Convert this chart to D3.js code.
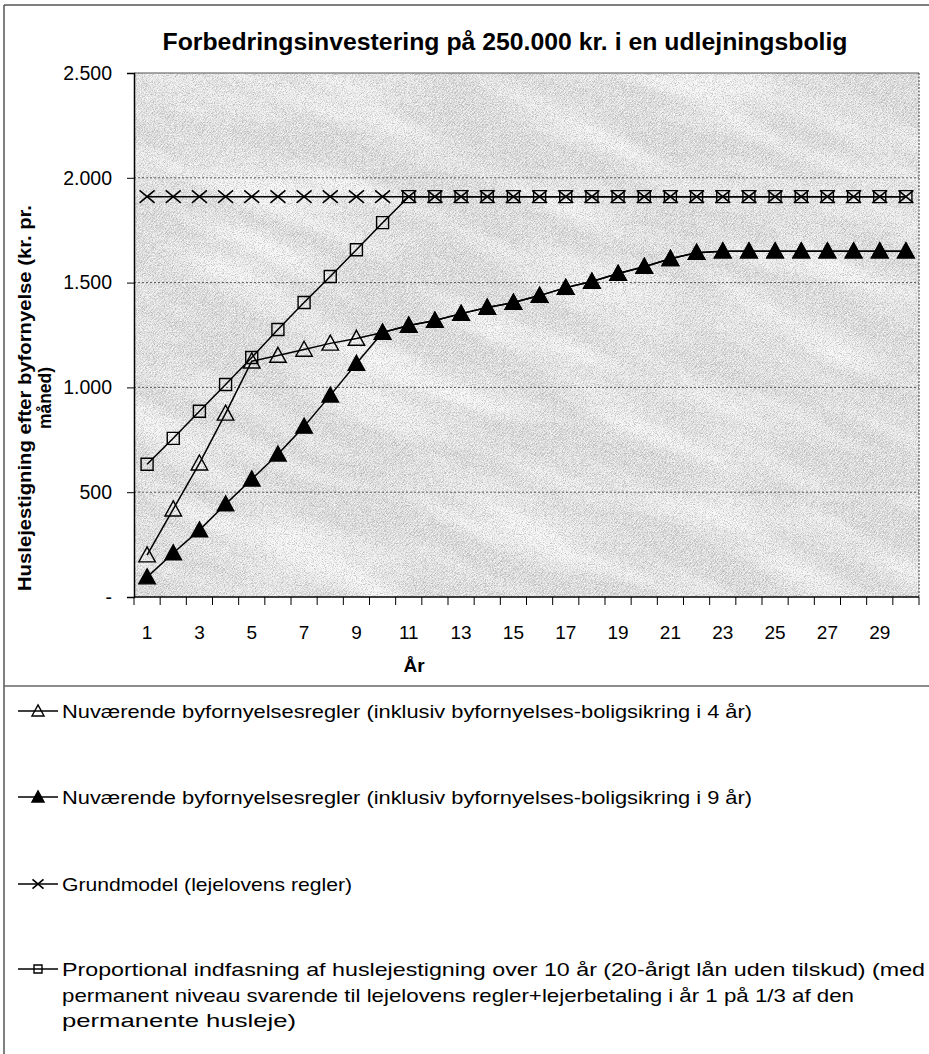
<!DOCTYPE html>
<html>
<head>
<meta charset="utf-8">
<script src="https://cdn.jsdelivr.net/npm/d3@7"></script>
<style>
  body { margin: 0; background: #fff; }
  text { font-family: "Liberation Sans", Arial, sans-serif; fill: #000; }
</style>
</head>
<body>
<div id="chart"></div>
<script>
const width = 929;
const height = 1054;

// Data
const years = [1, 2, 3, 4, 5, 6, 7, 8, 9, 10, 11, 12, 13, 14, 15, 16, 17, 18, 19, 20, 21, 22, 23, 24, 25, 26, 27, 28, 29, 30];
const boligsikring4 = [200, 419, 638, 876, 1125, 1152, 1181, 1210, 1233, 1262, 1295, 1319, 1352, 1381, 1405, 1438, 1476, 1505, 1543, 1576, 1614, 1643, 1650, 1650, 1650, 1650, 1650, 1650, 1650, 1650];
const boligsikring9 = [95, 210, 319, 443, 562, 681, 814, 962, 1114, 1262, 1295, 1319, 1352, 1381, 1405, 1438, 1476, 1505, 1543, 1576, 1614, 1643, 1650, 1650, 1650, 1650, 1650, 1650, 1650, 1650];
const grundmodel = [1910, 1910, 1910, 1910, 1910, 1910, 1910, 1910, 1910, 1910, 1910, 1910, 1910, 1910, 1910, 1910, 1910, 1910, 1910, 1910, 1910, 1910, 1910, 1910, 1910, 1910, 1910, 1910, 1910, 1910];
const proportional = [633, 757, 886, 1014, 1143, 1276, 1405, 1529, 1657, 1786, 1910, 1910, 1910, 1910, 1910, 1910, 1910, 1910, 1910, 1910, 1910, 1910, 1910, 1910, 1910, 1910, 1910, 1910, 1910, 1910];
const yTicks = [0, 500, 1000, 1500, 2000, 2500];
const xLabels = [1, 3, 5, 7, 9, 11, 13, 15, 17, 19, 21, 23, 25, 27, 29];

const title = "Forbedringsinvestering på 250.000 kr. i en udlejningsbolig";
const yTitle = ["Huslejestigning efter byfornyelse (kr. pr.", "måned)"];
const xTitle = "År";

const series = [
    { name: ["Nuværende byfornyelsesregler (inklusiv byfornyelses-boligsikring i 4 år)"], values: boligsikring4, marker: "triOpen" },
    { name: ["Nuværende byfornyelsesregler (inklusiv byfornyelses-boligsikring i 9 år)"], values: boligsikring9, marker: "triFilled" },
    { name: ["Grundmodel (lejelovens regler)"], values: grundmodel, marker: "cross" },
    { name: ["Proportional indfasning af huslejestigning over 10 år (20-årigt lån uden tilskud) (med",
             "permanent niveau svarende til lejelovens regler+lejerbetaling i år 1 på 1/3 af den",
             "permanente husleje)"], values: proportional, marker: "square" }
];
// the scanned text is a bit wider than Arial, stretch each legend line to its width
const legendWidths = [[690], [690], [290], [863, 792, 234]];

const plot = { left: 134, right: 919, top: 73, bottom: 597 };

const svg = d3.select("#chart").append("svg")
    .attr("width", width)
    .attr("height", height);

// textures for the scanned grey plot area
const defs = svg.append("defs");
defs.append("clipPath").attr("id", "plotclip")
    .append("rect").attr("x", plot.left).attr("y", plot.top)
    .attr("width", plot.right - plot.left).attr("height", plot.bottom - plot.top);

const hatch = defs.append("pattern")
    .attr("id", "hatch")
    .attr("width", 3)
    .attr("height", 3)
    .attr("patternUnits", "userSpaceOnUse")
    .attr("patternTransform", "rotate(-50)");
hatch.append("rect").attr("width", 3).attr("height", 3).attr("fill", "#e2e2e2");
hatch.append("line").attr("x1", 0).attr("y1", 0).attr("x2", 3).attr("y2", 0)
    .attr("stroke", "#b2b2b2").attr("stroke-width", 0.9);

const grain = defs.append("filter").attr("id", "grain")
    .attr("x", 0).attr("y", 0).attr("width", 1).attr("height", 1);
grain.append("feTurbulence").attr("type", "fractalNoise")
    .attr("baseFrequency", 1.1).attr("numOctaves", 1).attr("seed", 5);
grain.append("feColorMatrix").attr("type", "matrix")
    .attr("values", "0 0 0 0 0.35  0 0 0 0 0.35  0 0 0 0 0.35  4 0 0 0 -1.8");
grain.append("feComposite").attr("in2", "SourceGraphic").attr("operator", "in");

const speck = defs.append("filter").attr("id", "speck")
    .attr("x", 0).attr("y", 0).attr("width", 1).attr("height", 1);
speck.append("feTurbulence").attr("type", "fractalNoise")
    .attr("baseFrequency", 1.3).attr("numOctaves", 1).attr("seed", 21);
speck.append("feColorMatrix").attr("type", "matrix")
    .attr("values", "0 0 0 0 1  0 0 0 0 1  0 0 0 0 1  -4 0 0 0 2.15");
speck.append("feComposite").attr("in2", "SourceGraphic").attr("operator", "in");

const blotch = defs.append("filter").attr("id", "blotch")
    .attr("x", 0).attr("y", 0).attr("width", 1).attr("height", 1);
blotch.append("feTurbulence").attr("type", "fractalNoise")
    .attr("baseFrequency", "0.006 0.028").attr("numOctaves", 2).attr("seed", 11);
blotch.append("feColorMatrix").attr("type", "matrix")
    .attr("values", "0 0 0 0 1  0 0 0 0 1  0 0 0 0 1  2.6 0 0 0 -1.0");
blotch.append("feComposite").attr("in2", "SourceGraphic").attr("operator", "in");

// outer frame and legend separator
svg.append("line").attr("x1", 4).attr("y1", 5).attr("x2", width).attr("y2", 5)
    .attr("stroke", "#555").attr("stroke-width", 1.5);
svg.append("line").attr("x1", 4).attr("y1", 5).attr("x2", 4).attr("y2", height)
    .attr("stroke", "#555").attr("stroke-width", 1.5);
svg.append("line").attr("x1", 4).attr("y1", 686).attr("x2", width).attr("y2", 686)
    .attr("stroke", "#666").attr("stroke-width", 1.5);

const x = d3.scaleBand().domain(years).range([plot.left, plot.right]);
const y = d3.scaleLinear().domain([0, 2500]).range([plot.bottom, plot.top]);

const locale = d3.formatLocale({ decimal: ",", thousands: ".", grouping: [3], currency: ["", ""] });
const fmt = locale.format(",");

const g = svg.append("g");

// plot background
const bgW = plot.right - plot.left, bgH = plot.bottom - plot.top;
const bg = g.append("g").attr("clip-path", "url(#plotclip)");
bg.append("rect").attr("x", plot.left).attr("y", plot.top).attr("width", bgW).attr("height", bgH)
    .attr("fill", "url(#hatch)");
bg.append("rect").attr("x", -200).attr("y", -300).attr("width", 1400).attr("height", 1400)
    .attr("transform", "rotate(22 526 335)")
    .attr("fill", "#fff").attr("filter", "url(#blotch)").attr("opacity", 0.75);
bg.append("rect").attr("x", plot.left).attr("y", plot.top).attr("width", bgW).attr("height", bgH)
    .attr("fill", "#000").attr("filter", "url(#grain)").attr("opacity", 0.55);
bg.append("rect").attr("x", plot.left).attr("y", plot.top).attr("width", bgW).attr("height", bgH)
    .attr("fill", "#fff").attr("filter", "url(#speck)").attr("opacity", 0.8);

// gridlines
g.append("g").selectAll("line")
    .data(yTicks.filter(d => d > 0 && d < 2500))
    .enter().append("line")
    .attr("x1", plot.left).attr("x2", plot.right)
    .attr("y1", d => y(d)).attr("y2", d => y(d))
    .attr("stroke", "#333").attr("stroke-width", 0.8)
    .attr("stroke-dasharray", "2,2");

// plot border top / right
g.append("line").attr("x1", plot.left).attr("x2", plot.right).attr("y1", plot.top).attr("y2", plot.top)
    .attr("stroke", "#555").attr("stroke-width", 1.2);
g.append("line").attr("x1", plot.right).attr("x2", plot.right).attr("y1", plot.top).attr("y2", plot.bottom)
    .attr("stroke", "#333").attr("stroke-width", 1).attr("stroke-dasharray", "2,1.5");

// y axis
const yAxis = g.append("g")
    .attr("transform", `translate(${plot.left},0)`)
    .call(d3.axisLeft(y).tickValues(yTicks).tickSize(7).tickPadding(15)
        .tickFormat(d => d === 0 ? "-" : fmt(d)));
yAxis.select(".domain").attr("stroke", "#000").attr("stroke-width", 1.5);
yAxis.selectAll(".tick line").attr("stroke", "#000");
yAxis.selectAll(".tick text").style("font-size", "19.5px")
    .style("font-family", "'Liberation Sans', Arial, sans-serif").attr("fill", "#000");

// x axis, ticks between categories
const xAxisG = g.append("g").attr("transform", `translate(0,${plot.bottom})`);
xAxisG.append("line").attr("x1", plot.left).attr("x2", plot.right)
    .attr("stroke", "#000").attr("stroke-width", 1.5);
xAxisG.selectAll(".xt")
    .data(years.concat([null]))
    .enter().append("line")
    .attr("class", "xt")
    .attr("x1", (d, i) => plot.left + i * x.step())
    .attr("x2", (d, i) => plot.left + i * x.step())
    .attr("y1", 0).attr("y2", 8)
    .attr("stroke", "#000");
xAxisG.selectAll(".xl")
    .data(xLabels)
    .enter().append("text")
    .attr("class", "xl")
    .attr("x", d => x(d) + x.bandwidth() / 2)
    .attr("y", 42)
    .attr("text-anchor", "middle")
    .style("font-size", "19px")
    .text(d => d);

// titles
svg.append("text")
    .attr("x", 505).attr("y", 50)
    .attr("text-anchor", "middle")
    .attr("textLength", 685)
    .attr("lengthAdjust", "spacingAndGlyphs")
    .style("font-size", "23px").style("font-weight", "bold")
    .text(title);

svg.append("text")
    .attr("x", 414).attr("y", 672)
    .attr("text-anchor", "middle")
    .style("font-size", "19px").style("font-weight", "bold")
    .text(xTitle);

const yt = svg.append("g").attr("transform", "translate(0,398) rotate(-90)");
yt.selectAll("text").data(yTitle).enter().append("text")
    .attr("x", 0)
    .attr("y", (d, i) => 31 + i * 20)
    .attr("text-anchor", "middle")
    .attr("textLength", (d, i) => i === 0 ? 386 : null)
    .attr("lengthAdjust", "spacingAndGlyphs")
    .style("font-size", "17.5px").style("font-weight", "bold")
    .text(d => d);

// markers
function markerPath(type, s) {
    const p = d3.path();
    if (type === "triOpen" || type === "triFilled") {
        p.moveTo(0, -s * 0.55); p.lineTo(s * 0.55, s * 0.45); p.lineTo(-s * 0.55, s * 0.45); p.closePath();
    } else if (type === "square") {
        p.rect(-s / 2, -s / 2, s, s);
    } else {
        p.moveTo(-s / 2, -s * 0.42); p.lineTo(s / 2, s * 0.42);
        p.moveTo(s / 2, -s * 0.42); p.lineTo(-s / 2, s * 0.42);
    }
    return p.toString();
}
function markerStyle(sel, type) {
    sel.attr("fill", type === "triFilled" ? "#000" : "none")
        .attr("stroke", "#000")
        .attr("stroke-width", type === "cross" ? 1.6 : 1.4);
}

const line = d3.line()
    .x((d, i) => x(years[i]) + x.bandwidth() / 2)
    .y(d => y(d));

series.forEach(s => {
    const sg = g.append("g");
    sg.append("path").datum(s.values)
        .attr("d", line)
        .attr("fill", "none")
        .attr("stroke", "#000")
        .attr("stroke-width", 1.5);
    sg.selectAll("path.m")
        .data(s.values)
        .enter().append("path")
        .attr("class", "m")
        .attr("transform", (d, i) => `translate(${x(years[i]) + x.bandwidth() / 2},${y(d)})`)
        .attr("d", markerPath(s.marker, s.marker === "square" ? 12 : 15))
        .call(markerStyle, s.marker);
});

// legend
const legendY = [711, 797, 884, 969];
const legend = svg.append("g");
series.forEach((s, i) => {
    const ly = legendY[i];
    legend.append("line").attr("x1", 18).attr("x2", 58).attr("y1", ly).attr("y2", ly)
        .attr("stroke", "#000").attr("stroke-width", 1.3);
    legend.append("path")
        .attr("transform", `translate(38,${ly})`)
        .attr("d", markerPath(s.marker, s.marker === "square" ? 8 : 11))
        .call(markerStyle, s.marker);
    s.name.forEach((t, j) => {
        legend.append("text")
            .attr("x", 62).attr("y", ly + 7 + j * 25.5)
            .attr("textLength", legendWidths[i][j])
            .attr("lengthAdjust", "spacingAndGlyphs")
            .style("font-size", "18.5px")
            .text(t);
    });
});
</script>
</body>
</html>
